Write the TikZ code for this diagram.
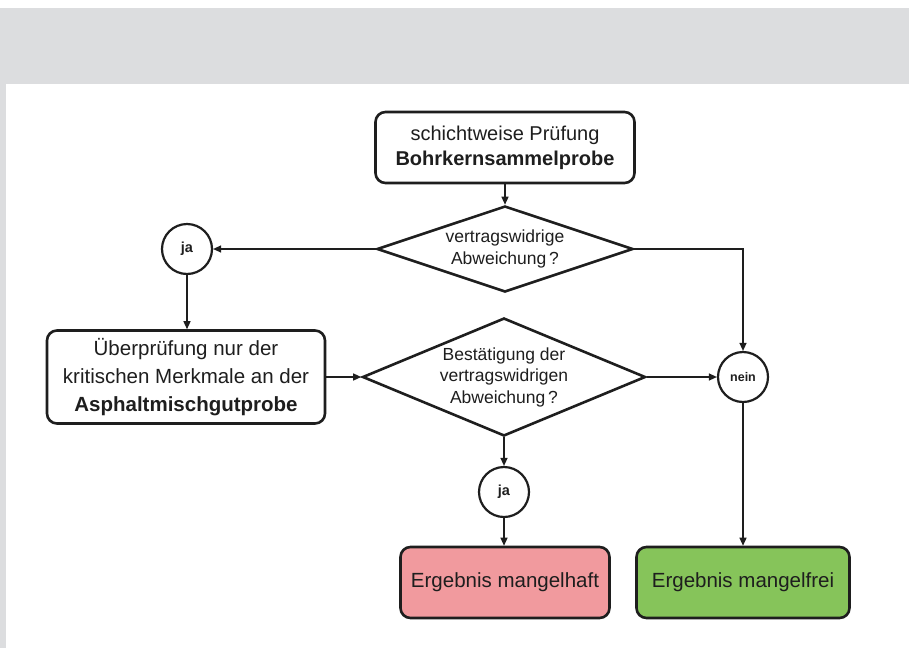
\documentclass[tikz,border=0pt]{standalone}
\usepackage{fontspec}
\setmainfont{Liberation Sans}
\usetikzlibrary{shapes.geometric,arrows.meta}
\definecolor{bandgrey}{HTML}{DCDDDF}
\definecolor{badred}{HTML}{F19A9E}
\definecolor{goodgreen}{HTML}{86C45A}
\definecolor{ink}{HTML}{1E1E1E}
\tikzset{
  box/.style={draw=ink, line width=2.6pt, rounded corners=10pt, inner sep=0pt, align=center, text=ink},
  decision/.style={draw=ink, line width=2.6pt, shape=diamond, inner sep=0pt},
  dtext/.style={align=center, text=ink, font=\fontsize{17.5}{21.5}\selectfont, inner sep=0pt},
  junction/.style={draw=ink, line width=2.2pt, circle, minimum size=50pt, inner sep=0pt, text=ink, font=\bfseries\fontsize{14.5}{16}\selectfont},
  conn/.style={draw=ink, line width=1.3pt, -{Triangle[length=8pt,width=7pt]}}
}
\begin{document}
\begin{tikzpicture}[x=1pt,y=-1pt]
\useasboundingbox (0,0) rectangle (909,648);
\fill[white] (0,0) rectangle (909,648);
\fill[bandgrey] (0,8) rectangle (909,84);
\fill[bandgrey] (0,84) rectangle (6,648);

\node[box, minimum width=259pt, minimum height=71pt, font=\fontsize{20}{25}\selectfont] (top) at (505,147.5)
  {schichtweise Prüfung\\\textbf{Bohrkernsammelprobe}};

\node[decision, minimum width=256pt, minimum height=86pt] (d1) at (505,249) {};
\node[dtext] (d1t) at (d1.center) {vertragswidrige\\Abweichung\,?};

\node[junction] (ja1) at (187,249) {ja};

\node[box, minimum width=278pt, minimum height=93pt, font=\fontsize{20.5}{28}\selectfont] (check) at (186,377)
  {Überprüfung nur der\\kritischen Merkmale an der\\\textbf{Asphaltmischgutprobe}};

\node[decision, minimum width=283pt, minimum height=118pt] (d2) at (504,377) {};
\node[dtext] (d2t) at (d2.center) {Bestätigung der\\vertragswidrigen\\Abweichung\,?};

\node[junction, font=\bfseries\fontsize{12.5}{14}\selectfont] (nein) at (743,377) {nein};
\node[junction] (ja2) at (504,492) {ja};

\node[box, fill=badred, minimum width=209pt, minimum height=71pt, font=\fontsize{20.5}{25}\selectfont] (bad) at (505,582.5) {Ergebnis mangelhaft};
\node[box, fill=goodgreen, minimum width=213pt, minimum height=71pt, font=\fontsize{20.5}{25}\selectfont] (good) at (743,582.5) {Ergebnis mangelfrei};

\draw[conn] (top.south) -- (d1.north);
\draw[conn] (d1.west) -- (ja1.east);
\draw[conn] (ja1.south) -- (ja1.south |- check.north);
\draw[conn] (check.east) -- (d2.west);
\draw[conn] (d1.east) -| (nein.north);
\draw[conn] (d2.east) -- (nein.west);
\draw[conn] (d2.south) -- (ja2.north);
\draw[conn] (ja2.south) -- (ja2.south |- bad.north);
\draw[conn] (nein.south) -- (good.north);
\end{tikzpicture}
\end{document}
